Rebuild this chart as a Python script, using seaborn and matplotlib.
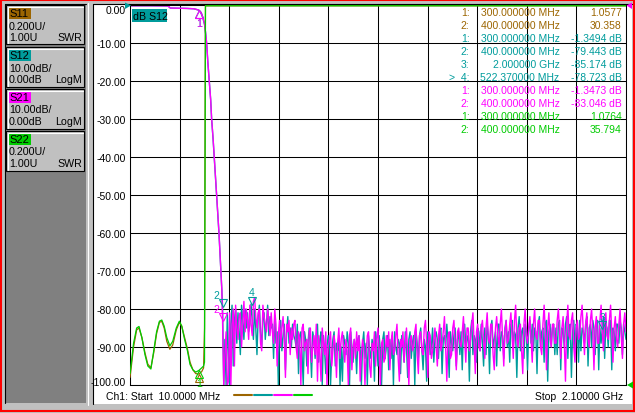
import numpy as np
import matplotlib
matplotlib.use("Agg")
import matplotlib.pyplot as plt
from matplotlib.patches import Rectangle, Polygon
from matplotlib.transforms import offset_copy
import seaborn as sns

# ---- values ----
trace_names = ["S11", "S12", "S21", "S22"]
trace_colors = ["#9c6500", "#009c9c", "#ff00ff", "#00cc00"]
trace_scale = ["0.200U/", "10.00dB/", "10.00dB/", "0.200U/"]
trace_ref = ["1.00U", "0.00dB", "0.00dB", "1.00U"]
trace_format = ["SWR", "LogM", "LogM", "SWR"]

# SWR traces (S11, S22), MHz
swr_freq = [10, 14, 25, 38, 48, 60, 73, 85, 98, 110,
            122, 134, 144, 154, 165, 178, 190, 205, 218, 228,
            240, 252, 263, 275, 287, 300, 312, 320, 324, 328,
            400, 700, 1000, 1400, 1800, 2100]
s11_swr = [1.04, 1.08, 1.20, 1.29, 1.30, 1.25, 1.17, 1.11, 1.09, 1.17,
           1.27, 1.33, 1.335, 1.30, 1.23, 1.188, 1.21, 1.29, 1.33, 1.31,
           1.25, 1.19, 1.12, 1.08, 1.06, 1.0577, 1.07, 1.09, 1.30, 5.8,
           30.358, 41.0, 47.0, 39.0, 52.0, 40.0]
s22_swr = [1.06, 1.10, 1.22, 1.30, 1.308, 1.25, 1.16, 1.10, 1.084, 1.18,
           1.28, 1.336, 1.342, 1.31, 1.25, 1.206, 1.23, 1.30, 1.336, 1.31,
           1.24, 1.18, 1.108, 1.08, 1.068, 1.0764, 1.09, 1.10, 1.12, 6.5,
           35.794, 48.0, 52.0, 41.0, 57.0, 44.0]

# transmission traces, passband + skirt (dB)
edge_freq = [10, 100, 170, 180, 250, 280, 300, 310, 318, 324,
             328, 333, 338, 344, 350, 354, 360, 365, 370, 375,
             380, 385, 389, 393, 397, 400]
s21_edge = [-0.2, -0.2, -0.25, -0.8, -0.9, -1.0, -1.347, -2.0, -3.5, -5.0,
            -7.0, -10, -15, -20, -25, -30, -35, -40, -45, -50,
            -55, -60, -65, -70, -75, -83.046]
s12_edge = [-0.2, -0.2, -0.25, -0.8, -0.9, -1.0, -1.349, -2.0, -3.6, -5.1,
            -7.1, -10.2, -15.1, -20.2, -25, -30.1, -35.2, -40.1, -45, -50.2,
            -55.1, -60.2, -65, -70.3, -75, -79.443]

# stopband noise floor, one point every 5 MHz from 405 MHz to 2.1 GHz
noise_freq = np.arange(405, 2101, 5)
s21_noise = [
    -100, -92, -86, -100, -99, -81, -100, -84, -80, -95, -79, -85, -88, -82, -81, -90, -84, -78, -86, -80,
    -83, -88, -79, -84, -87, -78, -77, -82, -85, -81, -80, -89, -91, -79, -82, -84, -86, -80, -83, -87,
    -81, -86, -89, -80, -84, -95, -87, -83, -90, -85, -82, -88, -98, -84, -86, -83, -92, -85, -88, -84,
    -83, -90, -93, -86, -88, -100, -85, -84, -91, -89, -88, -97, -86, -85, -94, -90, -87, -92, -84, -99,
    -87, -92, -99, -85, -89, -92, -86, -100, -90, -88, -86, -95, -91, -87, -90, -98, -89, -85, -93, -88,
    -86, -90, -94, -88, -91, -100, -87, -85, -96, -90, -88, -93, -86, -91, -87, -99, -92, -88, -90, -100,
    -92, -87, -86, -95, -98, -89, -91, -86, -95, -88, -85, -92, -100, -89, -88, -94, -93, -87, -90, -86,
    -96, -89, -86, -92, -91, -87, -84, -93, -99, -88, -90, -86, -94, -89, -85, -92, -100, -88, -87, -91,
    -90, -86, -84, -92, -97, -87, -86, -91, -92, -85, -83, -89, -98, -86, -87, -93, -91, -88, -85, -90,
    -95, -87, -84, -91, -89, -86, -82, -90, -99, -87, -86, -93, -92, -85, -83, -90, -96, -86, -85, -89,
    -90, -86, -82, -88, -94, -85, -85, -91, -88, -84, -81, -89, -97, -86, -84, -90, -91, -85, -83, -88,
    -93, -85, -81, -88, -89, -84, -84, -92, -96, -85, -82, -87, -90, -84, -80, -88, -95, -86, -83, -89,
    -88, -84, -81, -87, -93, -83, -79, -88, -90, -85, -84, -91, -97, -84, -80, -87, -89, -85, -82, -88,
    -94, -84, -80, -87, -88, -83, -83, -90, -92, -84, -79, -86, -96, -85, -81, -88, -90, -84, -84, -89,
    -89, -83, -80, -86, -93, -85, -82, -89, -99, -84, -79, -87, -88, -83, -81, -90, -94, -85, -83, -88,
    -87, -82, -79, -86, -92, -84, -81, -88, -90, -83, -80, -86, -96, -85, -82, -89, -89, -83, -79, -86,
    -91, -84, -81, -87, -88, -83, -79, -86, -94, -85, -82, -88, -90, -84, -80, -87, -93, -84, -81, -86]
s12_noise = [
    -100, -88, -100, -81, -92, -100, -84, -79, -95, -83, -80, -89, -81, -86, -92, -79, -83, -88, -80, -85,
    -81, -86, -84, -78.7, -83, -88, -80, -85, -92, -82, -79, -86, -90, -83, -81, -88, -84, -79, -87, -82,
    -85, -84, -93, -82, -89, -86, -100, -85, -83, -91, -87, -84, -96, -86, -82, -89, -85, -90, -84, -87,
    -88, -90, -84, -97, -87, -86, -92, -100, -86, -88, -95, -89, -85, -90, -98, -86, -88, -93, -87, -84,
    -94, -88, -86, -100, -87, -91, -97, -90, -87, -89, -100, -92, -88, -86, -95, -89, -91, -87, -100, -90,
    -99, -87, -89, -92, -86, -89, -100, -86, -90, -94, -88, -90, -97, -88, -87, -91, -100, -89, -86, -93,
    -89, -100, -87, -91, -93, -88, -90, -99, -86, -89, -95, -87, -91, -100, -88, -86, -93, -90, -87, -96,
    -88, -93, -87, -100, -86, -90, -92, -88, -89, -97, -87, -90, -94, -86, -90, -98, -88, -86, -93, -89,
    -87, -100, -86, -89, -93, -87, -85, -91, -96, -88, -90, -99, -86, -87, -92, -90, -85, -94, -88, -86,
    -88, -93, -86, -85, -97, -88, -87, -90, -84, -89, -98, -86, -89, -91, -87, -85, -95, -88, -86, -92,
    -86, -96, -85, -84, -90, -88, -87, -99, -86, -83, -92, -87, -88, -94, -85, -86, -91, -84, -89, -95,
    -85, -92, -84, -87, -97, -85, -83, -90, -88, -86, -95, -84, -84, -91, -86, -87, -93, -85, -83, -90,
    -86, -94, -84, -83, -90, -86, -87, -98, -85, -82, -91, -86, -85, -93, -84, -86, -96, -85, -83, -89,
    -84, -91, -85, -86, -97, -84, -82, -90, -86, -85, -94, -84, -83, -99, -86, -84, -90, -85, -84, -92,
    -85, -92, -84, -83, -96, -85, -86, -90, -84, -82, -93, -85, -84, -98, -86, -83, -91, -84, -85, -94,
    -83, -91, -85, -86, -89, -84, -82, -95, -85, -84, -90, -83, -85, -92, -84, -83, -96, -85, -89, -85.174,
    -82, -93, -84, -85, -90, -83, -83, -96, -85, -86, -91, -84, -84, -89, -83, -85, -92, -84, -86, -88]

# markers: number, frequency (MHz), value
mk_s11 = ([1, 2], [300, 400], [1.0577, 30.358])
mk_s12 = ([1, 2, 3, 4], [300, 400, 2000, 522.37], [-1.3494, -79.443, -85.174, -78.723])
mk_s21 = ([1, 2], [300, 400], [-1.3473, -83.046])
mk_s22 = ([1, 2], [300, 400], [1.0764, 35.794])
active_marker = ("S12", 4)

start_mhz, stop_mhz = 10, 2100
db_top, db_div = 0, 10
swr_ref, swr_div = 1.0, 0.2

sns.set_theme(style="white")
plt.rcParams["font.family"] = ["Liberation Sans", "DejaVu Sans"]

W, H = 635, 414
fig = plt.figure(figsize=(W / 100, H / 100), dpi=100, facecolor="#c0c0c0")
bg = fig.add_axes([0, 0, 1, 1], zorder=0)
bg.set_xlim(0, W)
bg.set_ylim(H, 0)
bg.axis("off")


def px_box(l, t, r, b):
    return [l / W, 1 - b / H, (r - l) / W, (b - t) / H]


# window chrome
bg.add_patch(Rectangle((92.5, 4.5), 539, 401, fc="white", ec="none"))
bg.plot([92.5, 92.5], [4.5, 405.5], color="black", lw=0.8)
bg.plot([92.5, 631.5], [4.5, 4.5], color="black", lw=0.8)
bg.plot([88, 88], [4, 406], color="white", lw=0.8)
bg.add_patch(Rectangle((4.5, 4.5), 81, 400, fc="#808080", ec="none"))
bg.plot([4.5, 4.5], [4.5, 404.5], color="black", lw=0.8)
bg.plot([4.5, 85.5], [4.5, 4.5], color="black", lw=0.8)
bg.add_patch(Rectangle((1, 1), 633, 411.5, fill=False, ec="#ff0000", lw=1.5))

# channel buttons
btn_rows = [(6, 45), (48, 88), (90, 130), (132, 172)]
for i, (t, b) in enumerate(btn_rows):
    bg.add_patch(Rectangle((6, t), 78, b - t, fc="#c0c0c0", ec="black", lw=0.8))
    bg.plot([7.5, 7.5, 82.5], [b - 1.5, t + 1.5, t + 1.5], color="white", lw=0.8)
    bg.add_patch(Rectangle((8, t + 2), 23, 12, fc=trace_colors[i], ec="none"))
    bg.text(9, t + 8.3, trace_names[i], fontsize=8, va="center", color="black")
    bg.text(9, t + 20.5, trace_scale[i], fontsize=7.7, va="center", color="black")
    bg.text(9, t + 31.7, trace_ref[i], fontsize=7.7, va="center", color="black")
    bg.text(82, t + 31.7, trace_format[i], fontsize=7.7, va="center", ha="right", color="black")

# plot grid
ax = fig.add_axes(px_box(130, 6, 626, 386), zorder=1)
ax.patch.set_visible(False)
ax.set_xlim(start_mhz, stop_mhz)
ax.set_ylim(db_top - 10 * db_div, db_top)
ax.set_xticks(np.linspace(start_mhz, stop_mhz, 11))
ax.set_xticklabels([])
yt = np.arange(db_top - 10 * db_div, db_top + 1, db_div)
ax.set_yticks(yt)
ax.set_yticklabels([f"{v:.2f}" for v in yt])
ax.tick_params(length=0, pad=3, labelsize=7.5, colors="black")
ax.grid(True, color="black", lw=0.75, alpha=1.0)
for sp in ax.spines.values():
    sp.set_color("black")
    sp.set_linewidth(0.75)
labs = ax.get_yticklabels()
labs[-1].set_va("top")
labs[0].set_va("baseline")

ax2 = ax.twinx()
ax2.set_zorder(2)
ax2.set_ylim(swr_ref, swr_ref + 10 * swr_div)
ax2.set_yticks([])
for sp in ax2.spines.values():
    sp.set_visible(False)

# traces
sns.lineplot(x=edge_freq + list(noise_freq), y=s12_edge + s12_noise, ax=ax,
             color=trace_colors[1], lw=1.0, estimator=None, legend=False)
sns.lineplot(x=edge_freq + list(noise_freq), y=s21_edge + s21_noise, ax=ax,
             color=trace_colors[2], lw=1.0, estimator=None, legend=False)
top_swr = swr_ref + 10 * swr_div - 0.004
sns.lineplot(x=swr_freq, y=np.minimum(s11_swr, top_swr), ax=ax2,
             color=trace_colors[0], lw=0.9, estimator=None, legend=False)
sns.lineplot(x=swr_freq, y=np.minimum(s22_swr, top_swr), ax=ax2,
             color=trace_colors[3], lw=0.9, estimator=None, legend=False)
for a in (ax, ax2):
    a.set_xlabel("")
    a.set_ylabel("")
ax.set_xlim(start_mhz, stop_mhz)
ax.set_ylim(db_top - 10 * db_div, db_top)
ax2.set_ylim(swr_ref, swr_ref + 10 * swr_div)


# marker triangles
def draw_markers(axis, mk, color, below_ids, lo, hi, label=True):
    nums, freqs, vals = mk
    for n, f, v in zip(nums, freqs, vals):
        if not (lo <= v <= hi):
            continue
        if n in below_ids:
            tr = offset_copy(axis.transData, fig=fig, x=0, y=-3.5, units="dots")
            axis.plot([f], [v], marker="^", ms=6, mfc="none", mec=color, mew=0.8,
                      transform=tr, clip_on=False)
            if label:
                axis.annotate(str(n), (f, v), xytext=(0, -13), textcoords="offset pixels",
                              ha="center", va="center", color=color, fontsize=7.5,
                              annotation_clip=False)
        else:
            tr = offset_copy(axis.transData, fig=fig, x=0, y=3.5, units="dots")
            axis.plot([f], [v], marker="v", ms=6, mfc="none", mec=color, mew=0.8,
                      transform=tr, clip_on=False)
            dx = -6 if n == 2 else 0
            axis.annotate(str(n), (f, v), xytext=(dx, 12), textcoords="offset pixels",
                          ha="center", va="center", color=color, fontsize=7.5,
                          annotation_clip=False)


draw_markers(ax, mk_s12, trace_colors[1], [1], -100, 0)
draw_markers(ax, mk_s21, trace_colors[2], [1], -100, 0)
# S11 and S22 marker 1 sit on the same spot: one shared number
draw_markers(ax2, mk_s11, trace_colors[0], [1], 1.0, 3.0, label=False)
draw_markers(ax2, mk_s22, trace_colors[3], [1], 1.0, 3.0)

# overlay for tags and read-outs
tag = fig.add_axes([0, 0, 1, 1], zorder=3)
tag.set_xlim(0, W)
tag.set_ylim(H, 0)
tag.axis("off")

# reference-level arrows
tag.add_patch(Polygon([(125, 3.5), (131, 6.5), (125, 10)], closed=True, fc=trace_colors[1], ec="none"))
tag.add_patch(Polygon([(632, 3.5), (626.5, 6.5), (632, 10)], closed=True, fc=trace_colors[2], ec="none"))
tag.add_patch(Polygon([(633, 382.5), (627, 386), (633, 389.5)], closed=True, fc=trace_colors[3], ec="none"))

# active trace tag
tag.add_patch(Rectangle((131.5, 10), 35.5, 12.5, fc=trace_colors[1], ec="none"))
tag.text(133, 16.5, "dB " + active_marker[0], fontsize=7.7, va="center", color="black")


# marker read-out table
def fmt_freq(f):
    if f >= 1000:
        return f"{f / 1000:.6f} GHz"
    return f"{f:.6f} MHz"


rows = []
for name, color, mk, unit in [("S11", trace_colors[0], mk_s11, ""),
                              ("S12", trace_colors[1], mk_s12, " dB"),
                              ("S21", trace_colors[2], mk_s21, " dB"),
                              ("S22", trace_colors[3], mk_s22, "")]:
    for n, f, v in zip(*mk):
        if unit:
            val = f"{v:.4f}" if abs(v) < 10 else f"{v:.3f}"
        else:
            val = f"{v:.4f}" if v < 10 else f"{v:.3f}"
        num = (">  " if (name, n) == active_marker else "") + f"{n}:"
        rows.append((color, num, fmt_freq(f), val + unit))

for i, (color, num, fq, val) in enumerate(rows):
    y = 13.5 + i * 12.95
    tag.text(469.5, y, num, ha="right", va="center", fontsize=7.5, color=color)
    tag.text(559.5, y, fq, ha="right", va="center", fontsize=7.5, color=color)
    tag.text(621.5, y, val, ha="right", va="center", fontsize=7.5, color=color)

# bottom status line
tag.text(106, 397, f"Ch1: Start  {start_mhz:.4f} MHz", va="center", fontsize=7.5, color="black")
tag.text(623, 397, f"Stop  {stop_mhz / 1000:.5f} GHz", va="center", ha="right", fontsize=7.5, color="black")
for i, c in enumerate(trace_colors):
    x0 = 234 + i * 20
    tag.plot([x0, x0 + 18], [396, 396], color=c, lw=1.5)

fig.savefig("out.png", dpi=100, facecolor=fig.get_facecolor())
